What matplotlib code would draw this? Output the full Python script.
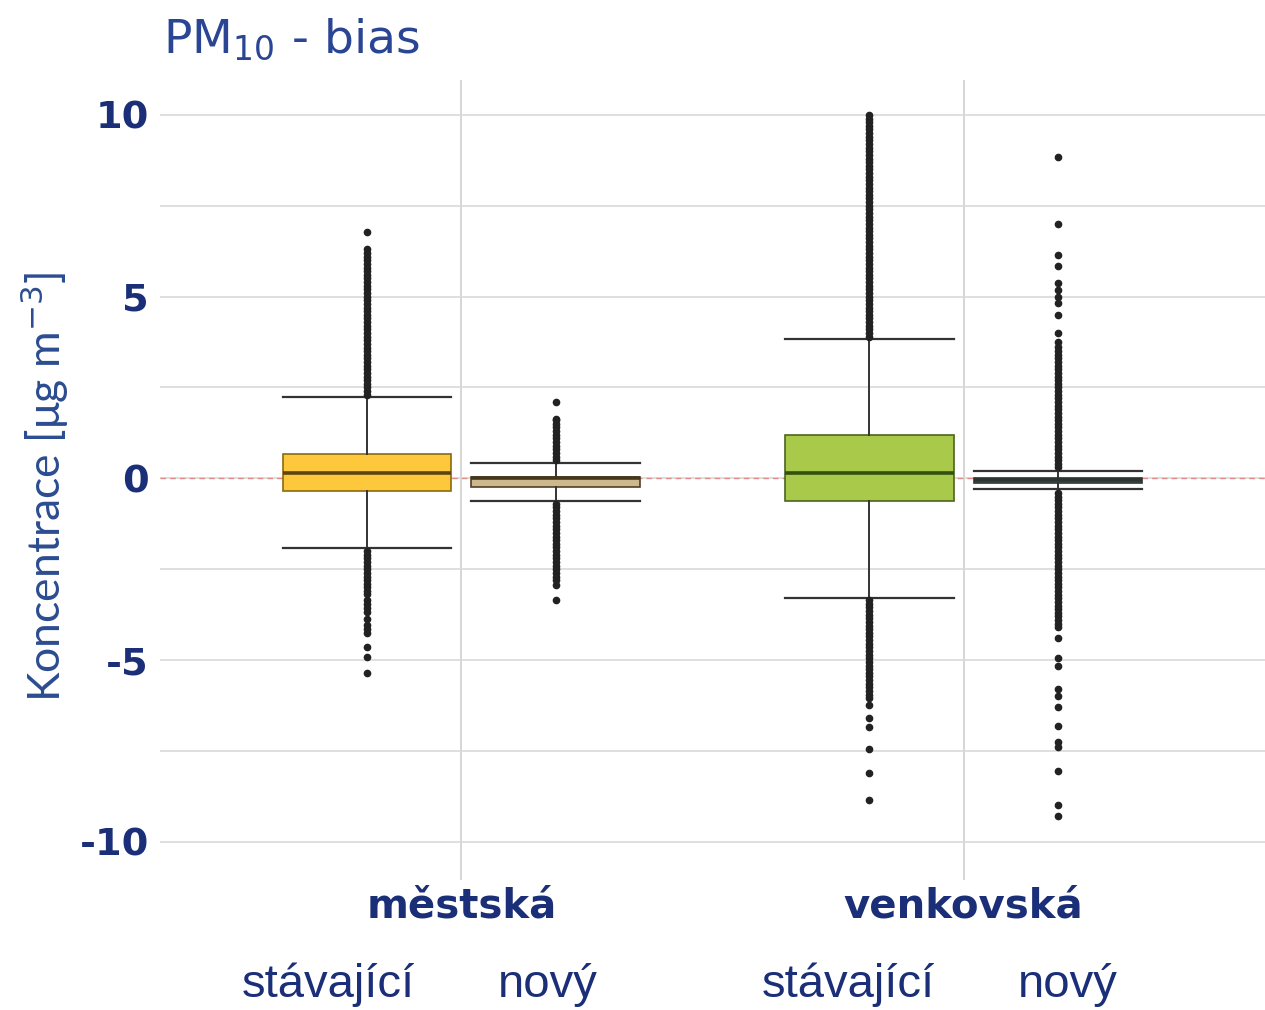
import matplotlib
matplotlib.use("Agg")
import matplotlib.pyplot as plt
import matplotlib.transforms as mtransforms

# ---------------- data ----------------
groups = ["městská", "venkovská"]
variants = ["stávající", "nový"]

# per box: [q1, median, q3, whisker_low, whisker_high]
mestska_stav_stats = [-0.34, 0.15, 0.67, -1.91, 2.24]
mestska_novy_stats = [-0.24, 0.00, 0.05, -0.62, 0.43]
venk_stav_stats = [-0.61, 0.16, 1.18, -3.29, 3.84]
venk_novy_stats = [-0.12, -0.05, 0.02, -0.30, 0.20]

mestska_stav_fliers = [2.3, 2.4, 2.5, 2.6, 2.7, 2.8, 2.9, 3.0, 3.1, 3.2, 3.3, 3.4, 3.5,
                       3.6, 3.7, 3.8, 3.9, 4.0, 4.1, 4.2, 4.3, 4.4, 4.5, 4.6, 4.7, 4.8,
                       4.9, 5.0, 5.1, 5.2, 5.3, 5.4, 5.5, 5.6, 5.7, 5.8, 5.9, 6.0, 6.1,
                       6.2, 6.3, 6.78,
                       -2.0, -2.1, -2.2, -2.3, -2.4, -2.5, -2.6, -2.7, -2.8, -2.9, -3.0,
                       -3.1, -3.17, -3.34, -3.45, -3.56, -3.67, -3.87, -4.04, -4.14,
                       -4.25, -4.63, -4.91, -5.35]
mestska_novy_fliers = [0.5, 0.6, 0.7, 0.8, 0.9, 1.0, 1.1, 1.2, 1.3, 1.4, 1.5, 1.6, 1.64,
                       2.11,
                       -0.7, -0.8, -0.9, -1.0, -1.1, -1.2, -1.3, -1.4, -1.5, -1.6, -1.7,
                       -1.8, -1.9, -2.0, -2.1, -2.2, -2.3, -2.4, -2.5, -2.6, -2.7, -2.8,
                       -2.93, -3.35]
venk_stav_fliers = [3.9, 4.0, 4.1, 4.2, 4.3, 4.4, 4.5, 4.6, 4.7, 4.8, 4.9, 5.0, 5.1, 5.2,
                    5.3, 5.4, 5.5, 5.6, 5.7, 5.8, 5.9, 6.0, 6.1, 6.2, 6.3, 6.4, 6.5, 6.6,
                    6.7, 6.8, 6.9, 7.0, 7.1, 7.2, 7.3, 7.4, 7.5, 7.6, 7.7, 7.8, 7.9, 8.0,
                    8.1, 8.2, 8.3, 8.4, 8.5, 8.6, 8.7, 8.8, 8.9, 9.0, 9.1, 9.2, 9.3, 9.4,
                    9.5, 9.6, 9.7, 9.8, 9.9, 10.0,
                    -3.35, -3.45, -3.55, -3.65, -3.75, -3.85, -3.95, -4.05, -4.15,
                    -4.25, -4.35, -4.45, -4.55, -4.65, -4.75, -4.85, -4.95, -5.05,
                    -5.15, -5.25, -5.35, -5.45, -5.55, -5.65, -5.75, -5.85, -5.95,
                    -6.05, -6.23, -6.60, -6.83, -7.45, -8.10, -8.85]
venk_novy_fliers = [0.3, 0.4, 0.5, 0.6, 0.7, 0.8, 0.9, 1.0, 1.1, 1.2, 1.3, 1.4, 1.5, 1.6,
                    1.7, 1.8, 1.9, 2.0, 2.1, 2.2, 2.3, 2.4, 2.5, 2.6, 2.7, 2.8, 2.9, 3.0,
                    3.1, 3.2, 3.3, 3.4, 3.5, 3.62, 3.75, 4.00, 4.50, 4.82, 5.00, 5.18,
                    5.38, 5.85, 6.15, 7.00, 8.85,
                    -0.4, -0.5, -0.6, -0.7, -0.8, -0.9, -1.0, -1.1, -1.2, -1.3, -1.4,
                    -1.5, -1.6, -1.7, -1.8, -1.9, -2.0, -2.1, -2.2, -2.3, -2.4, -2.5,
                    -2.6, -2.7, -2.8, -2.9, -3.0, -3.1, -3.2, -3.3, -3.4, -3.5, -3.6,
                    -3.7, -3.8, -3.9, -4.0, -4.08, -4.39, -4.94, -5.16, -5.80, -6.00,
                    -6.28, -6.80, -7.25, -7.40, -8.05, -9.00, -9.30]

y_ticks = [-10, -5, 0, 5, 10]
y_tick_labels = ["-10", "-5", "0", "5", "10"]

# ---------------- style ----------------
box_fill = ["#fdc83c", "#cdb78c", "#a9c94a", "#56625c"]
box_edge = ["#8a6a10", "#4f4028", "#4d6420", "#2f3835"]
median_col = ["#5c4510", "#45361c", "#335010", "#2b3431"]
navy = "#1b2f78"
title_col = "#2a4594"

offset = 0.1875
box_w = 0.335

fig = plt.figure(figsize=(12.65, 10.10), dpi=100)
ax = fig.add_axes([160 / 1265, 1 - 880 / 1010, 1 - 160 / 1265, 800 / 1010])

all_stats = [mestska_stav_stats, mestska_novy_stats, venk_stav_stats, venk_novy_stats]
all_fliers = [mestska_stav_fliers, mestska_novy_fliers, venk_stav_fliers, venk_novy_fliers]

bxp_stats = []
positions = []
i = 0
for g in range(len(groups)):
    for v in range(len(variants)):
        q1, med, q3, lo, hi = all_stats[i]
        bxp_stats.append(dict(q1=q1, med=med, q3=q3, whislo=lo, whishi=hi,
                              fliers=all_fliers[i], label=""))
        positions.append(g + (v - 0.5) * 2 * offset)
        i += 1

art = ax.bxp(bxp_stats, positions=positions, widths=box_w, capwidths=box_w,
             patch_artist=True, showfliers=True,
             whiskerprops=dict(color="#333333", lw=1.4),
             capprops=dict(color="#333333", lw=1.6),
             flierprops=dict(marker="o", markersize=4.5, markerfacecolor="#222222",
                             markeredgecolor="#222222", linestyle="none"),
             zorder=3)
for k, b in enumerate(art["boxes"]):
    b.set_facecolor(box_fill[k])
    b.set_edgecolor(box_edge[k])
    b.set_linewidth(1.2)
for k, m in enumerate(art["medians"]):
    m.set_color(median_col[k])
    m.set_linewidth(2.6)

ax.axhline(0, color="#e38a8a", lw=1.0, ls=(0, (4, 3)), zorder=1)

ax.set_xlim(-0.6, 1.6)
ax.set_ylim(-11.05, 10.96)
ax.set_yticks(y_ticks)
ax.set_yticklabels(y_tick_labels)
ax.set_yticks([-7.5, -2.5, 2.5, 7.5], minor=True)
ax.set_xticks(range(len(groups)))
ax.set_xticklabels(groups)
ax.grid(True, which="both", axis="y", color="#d9d9d9", lw=1.2, zorder=0)
ax.grid(True, which="major", axis="x", color="#d0d0d0", lw=1.2, zorder=0)
ax.set_axisbelow(True)
for s in ax.spines.values():
    s.set_visible(False)
ax.tick_params(axis="both", which="both", length=0)
ax.tick_params(axis="y", pad=8)
ax.tick_params(axis="x", pad=5)
for lab in ax.get_yticklabels():
    lab.set_fontfamily("DejaVu Sans")
    lab.set_fontweight("bold")
    lab.set_fontsize(27.5)
    lab.set_color(navy)
for lab in ax.get_xticklabels():
    lab.set_fontfamily("DejaVu Sans")
    lab.set_fontweight("bold")
    lab.set_fontsize(29)
    lab.set_color(navy)

plt.rcParams["mathtext.fontset"] = "dejavusans"
fig.text(163 / 1265, 1 - 53 / 1010, r"PM$_{10}$ - bias", fontsize=34,
         family="DejaVu Sans", color=title_col, ha="left", va="baseline")

fig.text(45 / 1265, 1 - 487 / 1010, r"Koncentrace [μg m$^{-3}$]", rotation=90,
         fontsize=32, family="Lato", color="#2b4d90", ha="center", va="center")

# variant labels under each group
trans = mtransforms.blended_transform_factory(ax.transData, fig.transFigure)
label_shift = [-0.077, -0.015]
group_shift = [0.0, 0.035]
for g in range(len(groups)):
    for v in range(len(variants)):
        xpos = g + (v - 0.5) * 2 * offset + label_shift[v] + group_shift[g]
        ax.text(xpos, 1 - 985 / 1010, variants[v], transform=trans, fontsize=34,
                family="Liberation Sans", color=navy, ha="center", va="center")

fig.savefig("out.png", dpi=100, facecolor="white")
